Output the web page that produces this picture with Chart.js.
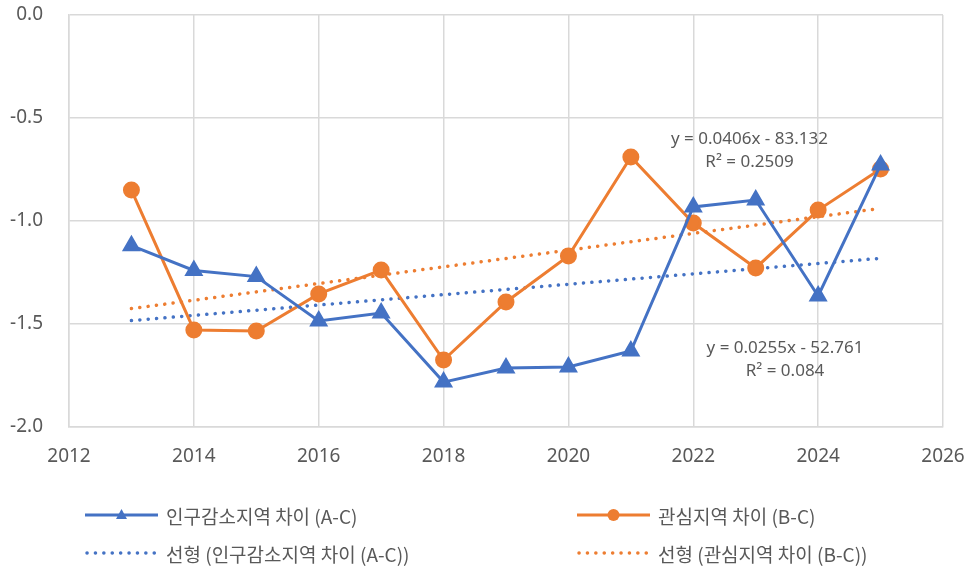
<!DOCTYPE html>
<html>
<head>
<meta charset="utf-8">
<script src="https://cdn.jsdelivr.net/npm/chart.js@4"></script>
<style>
  body { margin: 0; background: #fff; }
  #wrap { position: relative; width: 971px; height: 568px; }
  #legend { position: absolute; left: 0; top: 0; width: 971px; height: 568px; pointer-events: none;
    font-family: 'Noto Sans CJK KR', 'Noto Sans', sans-serif; font-size: 19px; color: #595959; }
  .item { position: absolute; display: flex; align-items: center; white-space: nowrap; height: 24px; }
  .item svg { margin-right: 8px; }
</style>
</head>
<body>
<div id="wrap">
  <canvas id="chart"></canvas>
  <div id="legend"></div>
</div>
<script>
var years = [2013, 2014, 2015, 2016, 2017, 2018, 2019, 2020, 2021, 2022, 2023, 2024, 2025];
var gapAC = [-1.12, -1.24, -1.27, -1.485, -1.447, -1.782, -1.714, -1.709, -1.631, -0.932, -0.898, -1.364, -0.728];
var gapBC = [-0.85, -1.529, -1.534, -1.354, -1.238, -1.675, -1.393, -1.17, -0.689, -1.01, -1.228, -0.947, -0.748];
var seriesNames = ['인구감소지역 차이 (A-C)', '관심지역 차이 (B-C)'];
var trendNames = ['선형 (인구감소지역 차이 (A-C))', '선형 (관심지역 차이 (B-C))'];
var eqTextAC = ['y = 0.0255x - 52.761', 'R² = 0.084'];
var eqTextBC = ['y = 0.0406x - 83.132', 'R² = 0.2509'];

var BLUE = '#4472c4', ORANGE = '#ed7d31', TEXT = '#595959', GRID = '#d9d9d9';

function pts(xs, ys) { return xs.map(function(x, i) { return { x: x, y: ys[i] }; }); }

// least squares line, drawn at the first and last year
function trend(xs, ys) {
  var n = xs.length, mx = 0, my = 0;
  xs.forEach(function(x, i) { mx += x; my += ys[i]; });
  mx /= n; my /= n;
  var sxy = 0, sxx = 0;
  xs.forEach(function(x, i) { sxy += (x - mx) * (ys[i] - my); sxx += (x - mx) * (x - mx); });
  var b = sxy / sxx, a = my - b * mx;
  return [xs[0], xs[n - 1]].map(function(x) { return { x: x, y: a + b * x }; });
}

var eqLabels = {
  id: 'eqLabels',
  afterDatasetsDraw: function(chart) {
    var ctx = chart.ctx, xs = chart.scales.x, ys = chart.scales.y;
    ctx.save();
    ctx.fillStyle = TEXT;
    ctx.font = '17px "Noto Sans", sans-serif';
    ctx.textAlign = 'center';
    ctx.textBaseline = 'middle';
    [[eqTextBC, 2022.9, -0.602], [eqTextAC, 2023.47, -1.617]].forEach(function(l) {
      var px = xs.getPixelForValue(l[1]), py = ys.getPixelForValue(l[2]);
      ctx.fillText(l[0][0], px, py);
      ctx.fillText(l[0][1], px, py + 23);
    });
    ctx.restore();
  }
};

var chart = new Chart(document.getElementById('chart'), {
  type: 'line',
  data: {
    datasets: [
      { label: seriesNames[0], data: pts(years, gapAC), borderColor: BLUE, backgroundColor: BLUE, borderWidth: 3,
        pointStyle: 'triangle', pointRadius: 8, pointHoverRadius: 8, tension: 0 },
      { label: seriesNames[1], data: pts(years, gapBC), borderColor: ORANGE, backgroundColor: ORANGE, borderWidth: 3,
        pointStyle: 'circle', pointRadius: 7, pointHoverRadius: 7, tension: 0 },
      { label: trendNames[0], data: trend(years, gapAC), borderColor: BLUE, borderWidth: 3.5, borderDash: [0.1, 8.3],
        borderCapStyle: 'round', pointRadius: 0, fill: false },
      { label: trendNames[1], data: trend(years, gapBC), borderColor: ORANGE, borderWidth: 3.5, borderDash: [0.1, 8.3],
        borderCapStyle: 'round', pointRadius: 0, fill: false }
    ]
  },
  options: {
    responsive: true, maintainAspectRatio: false, animation: false,
    layout: { padding: { top: 15, right: 28, bottom: 101, left: 0 } },
    plugins: { legend: { display: false }, tooltip: { enabled: false } },
    scales: {
      x: {
        type: 'linear', min: 2012, max: 2026,
        ticks: { stepSize: 2, color: TEXT, padding: 0, font: { size: 19, family: '"Noto Sans", sans-serif' },
          callback: function(v) { return String(v); } },
        // invisible tick marks keep the labels away from the axis
        grid: { color: GRID, lineWidth: 1.5, tickLength: 18, tickColor: 'rgba(0,0,0,0)' },
        border: { color: GRID, width: 1.5 },
        afterFit: function(s) { s.height = 40; }
      },
      y: {
        min: -2, max: 0,
        ticks: { stepSize: 0.5, color: TEXT, padding: 0, font: { size: 19, family: '"Noto Sans", sans-serif' },
          callback: function(v) { return v.toFixed(1); } },
        grid: { color: GRID, lineWidth: 1.5, tickLength: 26, tickColor: 'rgba(0,0,0,0)' },
        border: { color: GRID, width: 1.5 },
        afterFit: function(s) { s.width = 69; }
      }
    }
  },
  plugins: [eqLabels]
});

// legend in two columns, built from the datasets
var slots = [[85, 515], [577, 515], [85, 553], [577, 553]];
var legend = document.getElementById('legend');
chart.data.datasets.forEach(function(ds, i) {
  var svg = '<svg width="73" height="20">';
  if (ds.borderDash) {
    svg += '<line x1="2" y1="10" x2="70" y2="10" stroke="' + ds.borderColor + '" stroke-width="3.5" stroke-linecap="round" stroke-dasharray="0.1 8.3"/>';
  } else {
    svg += '<line x1="0" y1="10" x2="73" y2="10" stroke="' + ds.borderColor + '" stroke-width="3"/>';
    if (ds.pointStyle === 'triangle') svg += '<polygon points="36.5,4 42,14 31,14" fill="' + ds.borderColor + '"/>';
    else svg += '<circle cx="36.5" cy="10" r="6" fill="' + ds.borderColor + '"/>';
  }
  svg += '</svg>';
  var el = document.createElement('div');
  el.className = 'item';
  el.style.left = slots[i][0] + 'px';
  el.style.top = (slots[i][1] - 12) + 'px';
  el.innerHTML = svg + '<span>' + ds.label + '</span>';
  legend.appendChild(el);
});
</script>
</body>
</html>
